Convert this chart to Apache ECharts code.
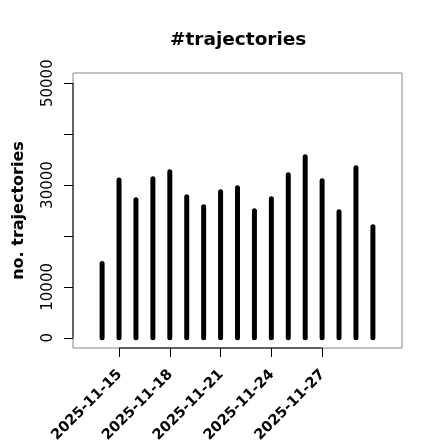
<!DOCTYPE html>
<html>
<head>
<meta charset="utf-8">
<script src="https://cdn.jsdelivr.net/npm/echarts@6/dist/echarts.min.js"></script>
<style>
  html, body { margin: 0; padding: 0; background: #fff; }
  #chart { width: 440px; height: 440px; }
</style>
</head>
<body>
<div id="chart"></div>
<script>
// one bar per day
const dates = [
  '2025-11-14', '2025-11-15', '2025-11-16', '2025-11-17', '2025-11-18', '2025-11-19',
  '2025-11-20', '2025-11-21', '2025-11-22', '2025-11-23', '2025-11-24', '2025-11-25',
  '2025-11-26', '2025-11-27', '2025-11-28', '2025-11-29', '2025-11-30'
]
const counts = [
  14600, 31000, 27100, 31250, 32600, 27700,
  25750, 28700, 29450, 24950, 27300, 32000,
  35550, 30850, 24750, 33400, 21800
]
const xTickDates = ['2025-11-15', '2025-11-18', '2025-11-21', '2025-11-24', '2025-11-27']
const yTicks = [0, 10000, 20000, 30000, 40000, 50000]
// R drops the labels that would overlap
const yTickLabels = [0, 10000, 30000, 50000]

const font = 'DejaVu Sans'
const xTicks = xTickDates.map(d => dates.indexOf(d))

const chart = echarts.init(document.getElementById('chart'), null, { renderer: 'canvas' })

const option = {
  animation: false,
  title: {
    text: '#trajectories',
    left: 165,
    top: 26,
    textStyle: { fontFamily: font, fontSize: 18.5, fontWeight: 'bold', color: '#000' }
  },
  grid: {
    left: 73, right: 38, top: 73, bottom: 92,
    outerBoundsMode: 'none',
    containLabel: false,
    show: true, borderColor: '#888', borderWidth: 1, backgroundColor: 'transparent'
  },
  xAxis: {
    type: 'value',
    // R style 4% padding round 11-13 .. 12-01
    min: -1.72,
    max: 17.72,
    axisLine: { show: false, onZero: false },
    splitLine: { show: false },
    axisTick: { show: true, length: 9, customValues: xTicks, lineStyle: { color: '#000' } },
    axisLabel: {
      customValues: xTicks,
      rotate: 45,
      margin: 25,
      padding: [0, -1, 0, 0],
      fontFamily: font,
      fontSize: 14.5,
      fontWeight: 'bold',
      color: '#000',
      formatter: v => dates[Math.round(v)]
    }
  },
  yAxis: {
    type: 'value',
    min: -2000,
    max: 52000,
    name: 'no. trajectories',
    nameLocation: 'middle',
    nameGap: 46,
    nameTextStyle: { fontFamily: font, fontSize: 16, fontWeight: 'bold', color: '#000' },
    axisLine: { show: false, onZero: false },
    splitLine: { show: false },
    axisTick: { show: true, length: 9, customValues: yTicks, lineStyle: { color: '#000' } },
    axisLabel: {
      customValues: yTickLabels,
      rotate: 90,
      margin: 17,
      fontFamily: font,
      fontSize: 15,
      color: '#000',
      formatter: v => String(v)
    }
  },
  series: [
    {
      type: 'custom',
      data: counts.map((v, i) => [i, v]),
      renderItem: (params, api) => {
        const p0 = api.coord([api.value(0), 0])
        const p1 = api.coord([api.value(0), api.value(1)])
        return {
          type: 'line',
          shape: { x1: p0[0], y1: p0[1], x2: p1[0], y2: p1[1] },
          style: { stroke: '#000', lineWidth: 5, lineCap: 'round' }
        }
      }
    }
  ]
}

chart.setOption(option)

// black axis lines only over the tick span, like R's axis()
const yA = chart.convertToPixel({ gridIndex: 0 }, [-1.72, yTicks[0]])
const yB = chart.convertToPixel({ gridIndex: 0 }, [-1.72, yTicks[yTicks.length - 1]])
const xA = chart.convertToPixel({ gridIndex: 0 }, [xTicks[0], -2000])
const xB = chart.convertToPixel({ gridIndex: 0 }, [xTicks[xTicks.length - 1], -2000])
chart.setOption({
  graphic: [
    { type: 'line', z: 100, shape: { x1: yA[0], y1: yA[1], x2: yB[0], y2: yB[1] }, style: { stroke: '#000', lineWidth: 1 } },
    { type: 'line', z: 100, shape: { x1: xA[0], y1: xA[1], x2: xB[0], y2: xB[1] }, style: { stroke: '#000', lineWidth: 1 } }
  ]
})
</script>
</body>
</html>
